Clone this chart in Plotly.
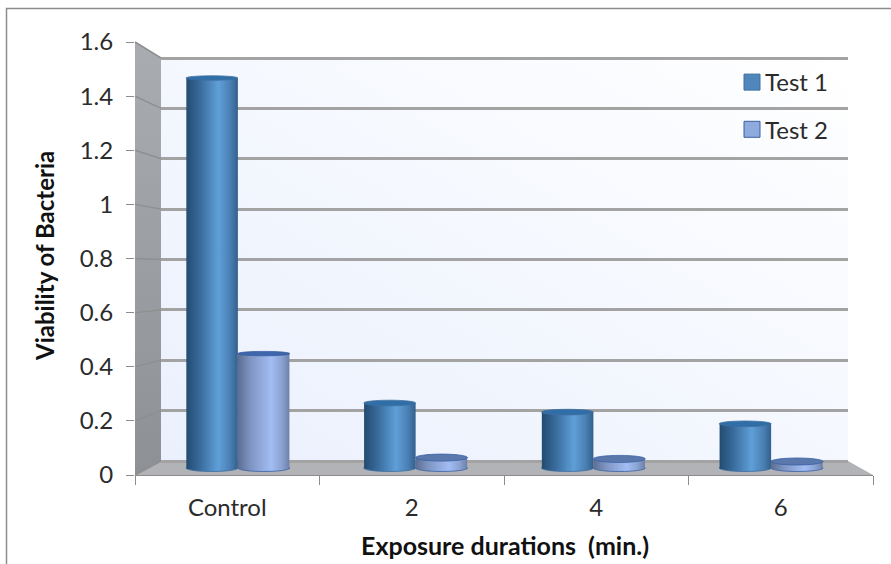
import plotly.graph_objects as go

categories = ["Control", "2", "4", "6"]
test1 = [1.50, 0.25, 0.215, 0.17]
test2 = [0.44, 0.04, 0.035, 0.025]
tick_values = [0, 0.2, 0.4, 0.6, 0.8, 1, 1.2, 1.4, 1.6]
tick_labels = ["0", "0.2", "0.4", "0.6", "0.8", "1", "1.2", "1.4", "1.6"]
x_title = "Exposure durations  (min.)"
y_title = "Viability of Bacteria"

W, H = 891, 564
FONT = "Lato, 'Open Sans', sans-serif"
TXT = "#2b2b2b"


def px(x):
    return x / W


def py(y):
    return 1 - y / H


FRONT = dict(l=135, r=873, t=42, b=475)
BACK = dict(l=161, r=848, t=58, b=461)
MID = dict(l=149, r=860, t=52, b=468)
YMAX = 1.6
BACK_PAD = 0.01   # lets the 0 and 1.6 gridlines draw inside the back wall plot
MID_PAD = 0.03    # room below zero for the round foot of each cylinder
back_scale = (BACK["b"] - BACK["t"]) / YMAX
mid_scale = (MID["b"] - MID["t"]) / YMAX


def poly(points, close=True):
    return "M" + " L".join(f"{px(a):.5f},{py(b):.5f}" for a, b in points) + (" Z" if close else "")


fig = go.Figure()
fig.add_trace(go.Scatter(x=categories, y=[0, 0, 0, 0], xaxis="x", yaxis="y", mode="none",
                         showlegend=False, hoverinfo="skip"))
fig.add_trace(go.Scatter(x=[0], y=[0], xaxis="x2", yaxis="y2", mode="none",
                         showlegend=False, hoverinfo="skip"))
xpos = list(range(len(categories)))
fig.add_trace(go.Bar(name="Test 1", x=xpos, y=test1, xaxis="x3", yaxis="y3", legendgroup="a",
                     marker=dict(color="#4f86bb", line=dict(color="#3f6fa0", width=1))))
fig.add_trace(go.Bar(name="Test 2", x=xpos, y=test2, xaxis="x3", yaxis="y3", legendgroup="b",
                     marker=dict(color="#8faadc", line=dict(color="#3a5fa5", width=1))))

shapes = []
shapes.append(dict(type="path", xref="paper", yref="paper", layer="below",
                   path=poly([(6.5, 564), (6.5, 8.5), (891, 8.5)], close=False),
                   line=dict(color="#8c8c8c", width=1.5), fillcolor="rgba(0,0,0,0)"))
wall_index = len(shapes)
shapes.append(dict(type="rect", xref="paper", yref="paper", layer="below",
                   x0=px(BACK["l"]), x1=px(BACK["r"]), y0=py(BACK["b"]), y1=py(BACK["t"]),
                   fillcolor="#f4f7fe", line=dict(width=0)))
side_index = len(shapes)
shapes.append(dict(type="path", xref="paper", yref="paper", layer="below",
                   path=poly([(FRONT["l"], FRONT["t"]), (BACK["l"], BACK["t"]),
                              (BACK["l"], BACK["b"]), (FRONT["l"], FRONT["b"])]),
                   fillcolor="#9a9da1", line=dict(width=0)))
shapes.append(dict(type="path", xref="paper", yref="paper", layer="below",
                   path=poly([(FRONT["l"], FRONT["b"]), (BACK["l"], BACK["b"]),
                              (BACK["r"], BACK["b"]), (FRONT["r"], FRONT["b"])]),
                   fillcolor="#b1b3b7", line=dict(width=0)))
for v in tick_values:
    yf = FRONT["b"] + (FRONT["t"] - FRONT["b"]) * v / YMAX
    yb = BACK["b"] + (BACK["t"] - BACK["b"]) * v / YMAX
    shapes.append(dict(type="line", xref="paper", yref="paper", layer="below",
                       x0=px(FRONT["l"]), y0=py(yf), x1=px(BACK["l"]), y1=py(yb),
                       line=dict(color="#8f8f8f", width=1.5)))

cap_style = []
for off, vals, grad, tall_cap, low_cap, edge in [
        (-0.146, test1, "g1", "#2f6ea6", "#2f6ea6", "#3f6fa0"),
        (0.146, test2, "g2", "#3f65aa", "#5b78ad", "#3a5fa5")]:
    for i, v in enumerate(vals):
        half = 3.5 if v < 0.1 else (2.8 if v < 0.3 else 2.2)
        shapes.append(dict(type="circle", xref="x3", yref="y3", layer="below",
                           xsizemode="pixel", ysizemode="pixel", xanchor=i + off, yanchor=0,
                           x0=-26, x1=26, y0=-3.5, y1=3.5,
                           fillcolor="#4f86bb", line=dict(color=edge, width=0.8)))
        cap_style.append((len(shapes) - 1, grad))
        shapes.append(dict(type="circle", xref="x3", yref="y3", layer="above",
                           xsizemode="pixel", ysizemode="pixel", xanchor=i + off, yanchor=v,
                           x0=-26, x1=26, y0=-half, y1=half,
                           fillcolor=low_cap if v < 0.1 else tall_cap,
                           line=dict(color=edge, width=0.8)))

post_script = """
document.documentElement.style.margin = '0';
document.body.style.margin = '0';
document.body.style.overflow = 'hidden';
var gd = document.querySelector('.js-plotly-plot');
var svg = gd.querySelector('svg.main-svg');
var NS = 'http://www.w3.org/2000/svg';
var defs = document.createElementNS(NS, 'defs');
function grad(id, stops, x2, y1) {
  var g = document.createElementNS(NS, 'linearGradient');
  g.setAttribute('id', id);
  g.setAttribute('x1', '0'); g.setAttribute('y1', y1 || '0');
  g.setAttribute('x2', x2 || '1'); g.setAttribute('y2', '0');
  stops.forEach(function(s) {
    var t = document.createElementNS(NS, 'stop');
    t.setAttribute('offset', s[0]); t.setAttribute('stop-color', s[1]);
    g.appendChild(t);
  });
  defs.appendChild(g);
}
grad('g1', [[0,'#234b70'],[0.25,'#37699a'],[0.62,'#5f9fd8'],[0.85,'#4a80b4'],[1,'#33608c']]);
grad('g2', [[0,'#5d6d92'],[0.25,'#7f96c4'],[0.65,'#a2bdf4'],[0.85,'#8ba3d2'],[1,'#6c80a8']]);
grad('gw', [[0,'#eaf0fd'],[1,'#ffffff']], '1', '1');
grad('gs', [[0,'#8d9094'],[1,'#a9acb0']], '0', '1');
svg.insertBefore(defs, svg.firstChild);
gd.querySelectorAll('.barlayer .trace').forEach(function(tr, i) {
  tr.querySelectorAll('.point path').forEach(function(p) {
    p.style.fill = 'url(#g' + (i + 1) + ')';
    p.style.strokeWidth = '0';
  });
});
function setShape(i, g) {
  gd.querySelectorAll('.shapelayer path[data-index="' + i + '"]').forEach(function(p) {
    p.style.fill = 'url(#' + g + ')'; p.style.fillOpacity = 1;
  });
}
CAPS.forEach(function(c) { setShape(c[0], c[1]); });
setShape(WALL, 'gw');
setShape(SIDE, 'gs');
gd.querySelectorAll('.legend .legendpoints path').forEach(function(p) {
  p.setAttribute('d', 'M15,8H-1V-8H15Z');
});
""".replace("CAPS", str([[a, b] for a, b in cap_style])).replace("WALL", str(wall_index)).replace("SIDE", str(side_index))

annotations = [
    dict(text=f"<b>{x_title}</b>", xref="paper", yref="paper", x=px(505), y=py(545),
         xanchor="center", yanchor="middle", showarrow=False,
         font=dict(size=25, family=FONT, color="#111")),
    dict(text=f"<b>{y_title}</b>", xref="paper", yref="paper", x=px(44), y=py(256),
         xanchor="center", yanchor="middle", textangle=-90, showarrow=False,
         font=dict(size=24, family=FONT, color="#111")),
]

fig.update_layout(
    width=W, height=H, autosize=False,
    margin=dict(l=0, r=0, t=0, b=0, pad=0),
    paper_bgcolor="white", plot_bgcolor="rgba(0,0,0,0)",
    font=dict(family=FONT, size=20, color=TXT),
    barmode="group", bargap=0.42, bargroupgap=0,
    shapes=shapes, annotations=annotations,
    legend=dict(x=px(725), y=py(60), xanchor="left", yanchor="top", bgcolor="rgba(0,0,0,0)",
                tracegroupgap=13, itemwidth=30, font=dict(family=FONT, size=24, color=TXT)),
    xaxis=dict(domain=[px(FRONT["l"]), px(FRONT["r"])], anchor="y", type="category",
               categoryorder="array", categoryarray=categories, range=[-0.5, 3.5],
               tickson="boundaries", ticks="outside", ticklen=9, tickcolor="#8c8c8c",
               showline=True, linecolor="#8c8c8c", showgrid=False, zeroline=False,
               automargin=False, ticklabelstandoff=11,
               tickfont=dict(size=24, color=TXT)),
    yaxis=dict(domain=[py(FRONT["b"]), py(FRONT["t"])], anchor="x", range=[0, YMAX],
               tickmode="array", tickvals=tick_values, ticktext=tick_labels,
               ticks="outside", ticklen=8, tickcolor="#8c8c8c", showgrid=False, zeroline=False,
               automargin=False, ticklabelstandoff=8,
               showline=False, tickfont=dict(size=24, color=TXT)),
    xaxis2=dict(domain=[px(BACK["l"]), px(BACK["r"])], anchor="y2", range=[0, 1], visible=False),
    yaxis2=dict(domain=[py(BACK["b"] + BACK_PAD * back_scale), py(BACK["t"] - BACK_PAD * back_scale)],
                anchor="x2", range=[-BACK_PAD, YMAX + BACK_PAD],
                tickmode="array", tickvals=tick_values, showticklabels=False, ticks="",
                showgrid=True, gridcolor="#a3a3a3", gridwidth=2.5, zeroline=False, showline=False),
    xaxis3=dict(domain=[px(MID["l"]), px(MID["r"])], anchor="y3", range=[-0.5, 3.5], visible=False),
    yaxis3=dict(domain=[py(MID["b"] + MID_PAD * mid_scale), py(MID["t"])], anchor="x3",
                range=[-MID_PAD, YMAX], visible=False),
)
fig.write_html("out.html", post_script=post_script, config=dict(displayModeBar=False))
